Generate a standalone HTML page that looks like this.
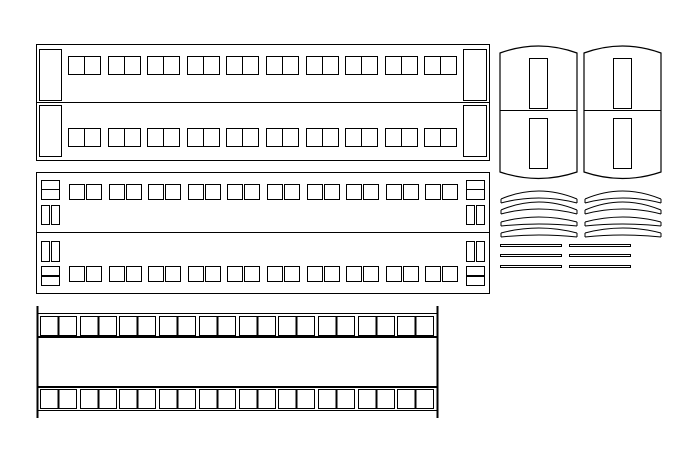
<!DOCTYPE html>
<html><head><meta charset="utf-8"><style>html,body{margin:0;padding:0;background:#fff;width:696px;height:454px;overflow:hidden}</style></head>
<body>
<svg id="s" width="696" height="454" viewBox="0 0 696 454" xmlns="http://www.w3.org/2000/svg" fill="none" stroke="#000" stroke-width="1.2" shape-rendering="crispEdges">
<rect x="36.5" y="44.5" width="453" height="116"/>
<line x1="36" y1="102.5" x2="489" y2="102.5"/>
<rect x="39.5" y="49.5" width="22" height="51"/>
<rect x="39.5" y="105.5" width="22" height="51"/>
<rect x="463.5" y="49.5" width="23" height="51"/>
<rect x="463.5" y="105.5" width="23" height="51"/>
<rect x="36.5" y="172.5" width="453" height="121"/>
<line x1="36" y1="232.5" x2="489" y2="232.5"/>
<line x1="37.5" y1="306" x2="37.5" y2="418" stroke-width="1.6"/>
<line x1="437.5" y1="306" x2="437.5" y2="418" stroke-width="1.6"/>
<rect x="37.5" y="313.5" width="400" height="23"/>
<rect x="37.5" y="337.5" width="400" height="49"/>
<rect x="37.5" y="387.5" width="400" height="23"/>
</svg>
<script>
var s=document.getElementById('s'),NS='http://www.w3.org/2000/svg';
function el(t,a){var e=document.createElementNS(NS,t);for(var k in a)e.setAttribute(k,a[k]);s.appendChild(e);return e;}
function r(x,y,w,h,sw){el('rect',{x:x+.5,y:y+.5,width:w,height:h,'stroke-width':sw||1.2});}
for(var i=0;i<10;i++){var x=Math.round(68+i*39.6);
 [56,128].forEach(function(y){r(x,y,16,18);r(x+16,y,16,18);});}
for(var i=0;i<10;i++){var x=Math.round(69+i*39.6);
 [184,266].forEach(function(y){r(x,y,15,15);r(x+17,y,15,15);});}
[41,466].forEach(function(x){
 r(x,180,18,9);r(x,189,18,10);
 r(x,205,8,19);r(x+10,205,8,19);
 r(x,241,8,20);r(x+10,241,8,20);
 r(x,266,18,9);r(x,276,18,9);
});
for(var i=0;i<10;i++){var x=Math.round(40+i*39.7);
 [316,389].forEach(function(y){r(x,y,18,19);r(x+18,y,18,19);
  el('line',{x1:x+18.5,y1:y,x2:x+18.5,y2:y+20,'stroke-width':2.2});});}
[500,584].forEach(function(x){
 var w=77,c=x+w/2;
 el('path',{d:'M'+x+' 53 Q'+c+' 39 '+(x+w)+' 53 L'+(x+w)+' 172 Q'+c+' 185 '+x+' 172 Z','shape-rendering':'auto'});
 el('line',{x1:x,y1:110.5,x2:x+w,y2:110.5});
 r(x+29,58,18,50);r(x+29,118,18,50);
 [199,210,222,233].forEach(function(y,j){
  var f=j<2?8:5;
  el('path',{d:'M'+(x+1)+' '+y+' Q'+c+' '+(y-2*f)+' '+(x+w)+' '+y,'shape-rendering':'auto','stroke-width':1});
  el('path',{d:'M'+(x+1)+' '+(y+4)+' Q'+c+' '+(y+4-2*f+6)+' '+(x+w)+' '+(y+4),'shape-rendering':'auto','stroke-width':1});
  el('line',{x1:x+1,y1:y,x2:x+1,y2:y+4});el('line',{x1:x+w,y1:y,x2:x+w,y2:y+4});
 });
});
[500,569].forEach(function(x){[244,254,265].forEach(function(y){r(x,y,61,2);});});
</script>
</body></html>
